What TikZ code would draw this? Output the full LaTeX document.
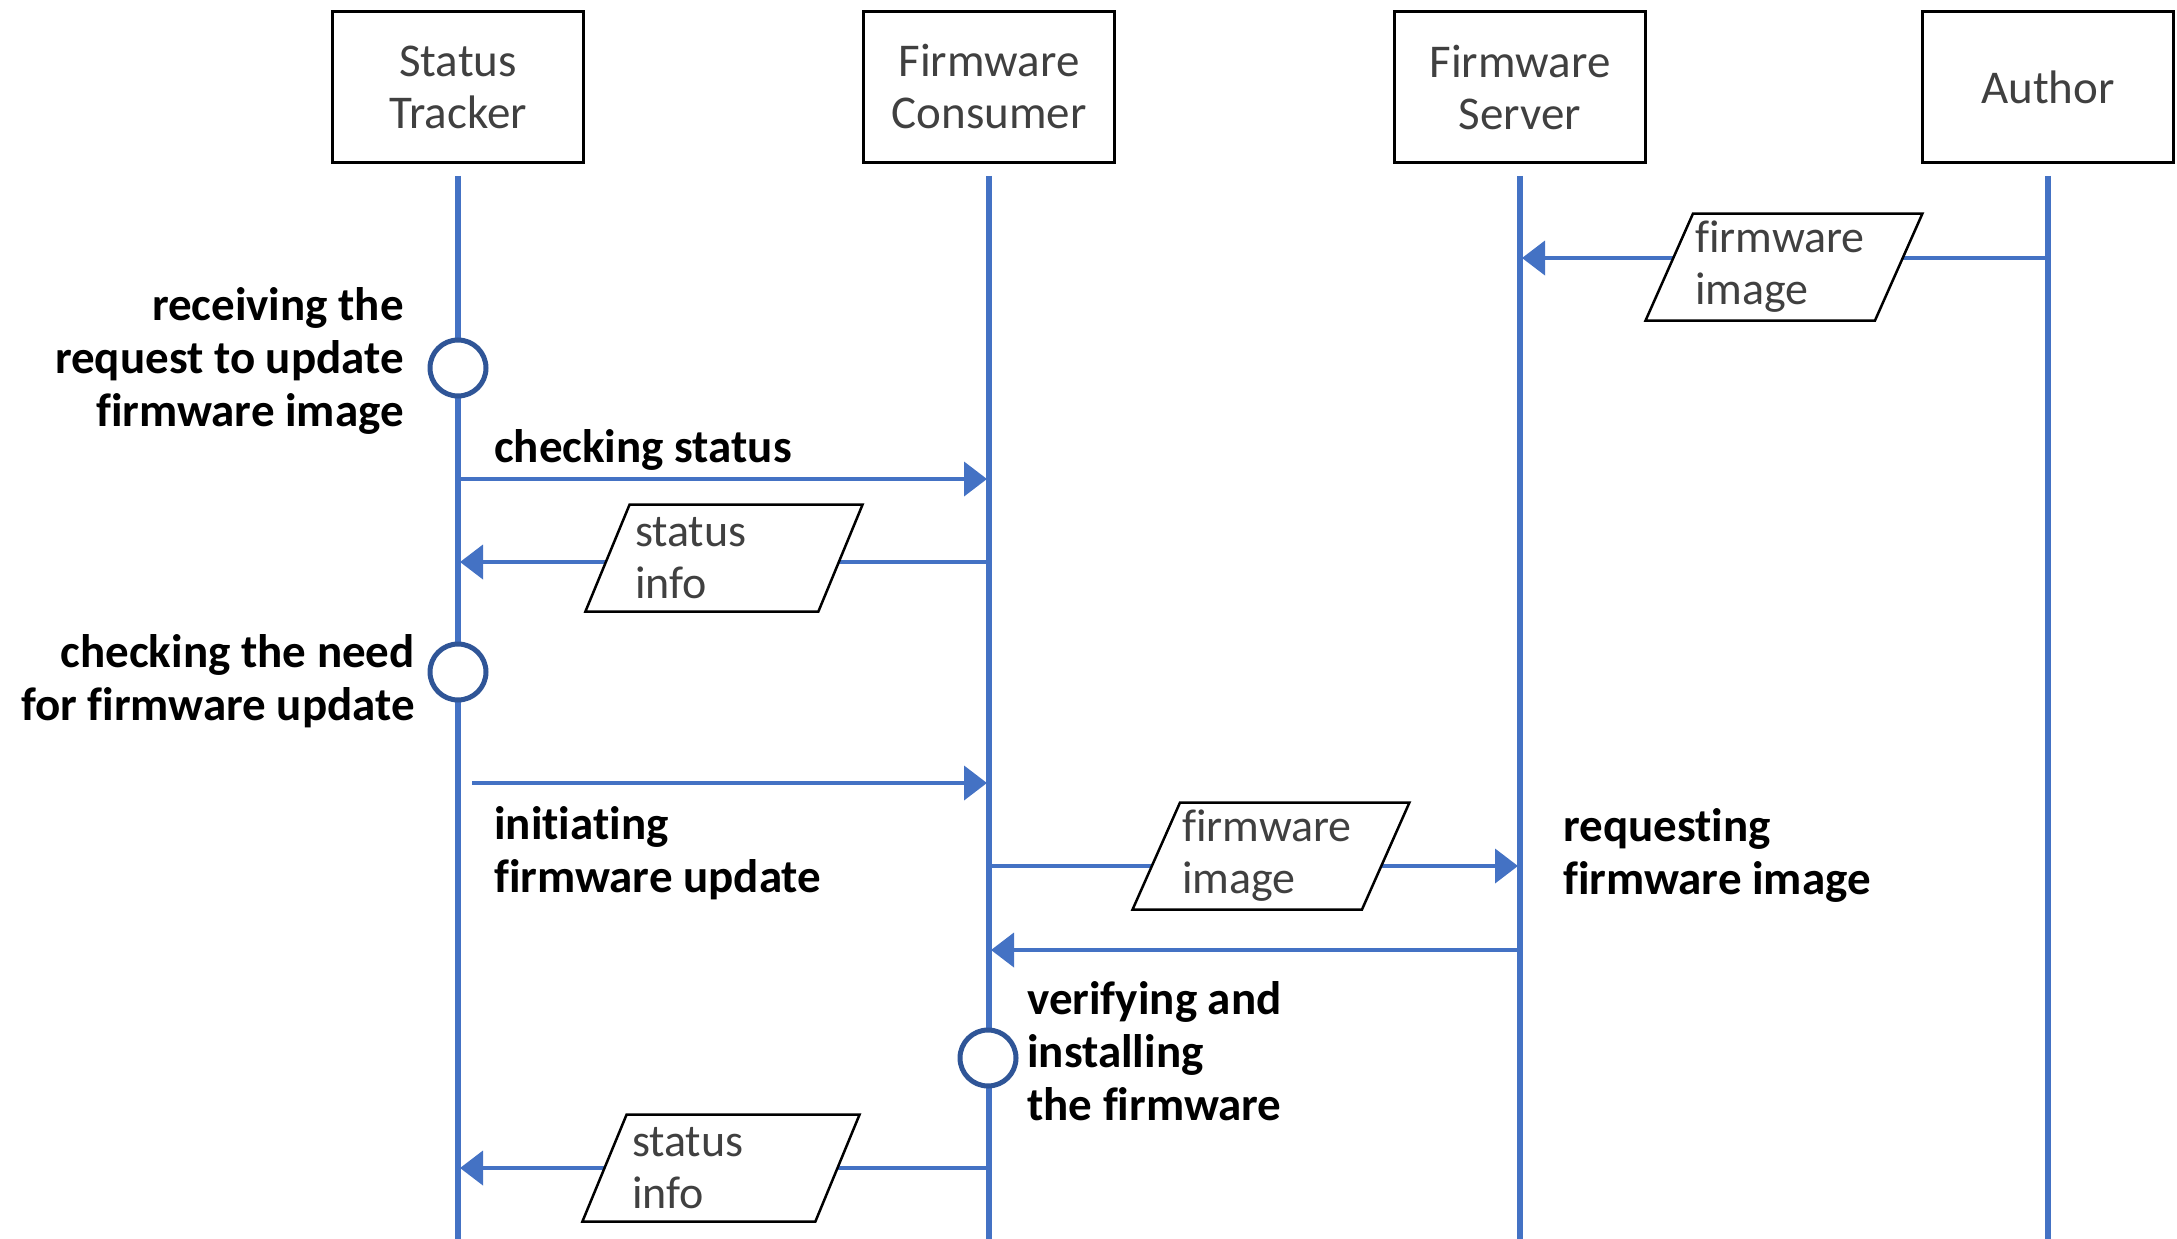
\documentclass[tikz,border=0pt]{standalone}
\usepackage{fontspec}
\setmainfont{Carlito}[Ligatures={NoCommon}]
\usetikzlibrary{shapes.geometric,arrows.meta}
\definecolor{lifeblue}{RGB}{68,114,196}
\definecolor{ringblue}{RGB}{47,85,151}
\definecolor{boxtext}{RGB}{64,64,64}

\begin{document}
\begin{tikzpicture}
[x=1pt,y=-1pt,
  actordecorate/.style={draw,line width=2.5pt,minimum width=251pt,minimum height=151pt,%
    align=center,text=boxtext,font=\fontsize{47}{52}\selectfont},%
  lifedecorate/.style={lifeblue,line width=6.5pt},%
  msgdecorate/.style={lifeblue,line width=4pt,-{Triangle[length=23pt,width=34pt]},shorten >=2pt},%
  datadecorate/.style={trapezium,trapezium left angle=65,trapezium right angle=115,%
    trapezium stretches=true,draw,line width=2.5pt,fill=white,minimum width=278pt,%
    minimum height=107pt,inner xsep=0pt,inner ysep=4pt,text width=178pt,align=left,%
    text=boxtext,font=\fontsize{46}{52}\selectfont},%
  ringdecorate/.style={circle,draw=ringblue,line width=5pt,fill=white,minimum size=56pt,inner sep=0pt},%
  notedecorate/.style={inner sep=0pt,font=\bfseries\fontsize{47}{53}\selectfont}]
\useasboundingbox (0,0) rectangle (2177,1239);
%% actors and lifelines
\foreach \nodename/\x/\label in {st/458/{Status\\Tracker}, fc/989/{Firmware\\Consumer},
  fs/1520/{Firmware\\Server}, au/2048/Author} {
  \node (\nodename) at (\x,87) [actordecorate] {\label};
  \coordinate (\nodename bot) at (\x,1239);
  \draw[lifedecorate] ([yshift=-12pt]\nodename.south) -- (\nodename bot);
}
%% message ends
\foreach \cname/\actor/\y in {m1s/au/258, m1e/fs/258, m2s/st/479, m2e/fc/479,
  m3s/fc/562, m3e/st/562, m4e/fc/783, m5s/fc/866, m5e/fs/866,
  m6s/fs/950, m6e/fc/950, m7s/fc/1168, m7e/st/1168} {
  \coordinate (\cname) at (\actor bot |- 0,\y);
}
\coordinate (m4s) at (472,783);
%% messages
\foreach \from/\to in {m1s/m1e, m2s/m2e, m3s/m3e, m4s/m4e, m5s/m5e, m6s/m6e, m7s/m7e}
  \draw[msgdecorate] (\from) -- (\to);
%% data on messages
\node[datadecorate] (img1) at (1784,267) {firmware\\image};
\node[datadecorate] (stat1) at (724,558) {status\\info};
\node[datadecorate] (img2) at (1271,856) {firmware\\image};
\node[datadecorate] (stat2) at (721,1168) {status\\info};
%% activities
\node[ringdecorate] (recv) at (458,368) {};
\node[ringdecorate] (need) at (458,672) {};
\node[ringdecorate] (verify) at (988,1058) {};
%% notes
\node[notedecorate,align=right,anchor=east] (recvnote) at (404,361)
  {receiving the\\request to update\\firmware image};
\node[notedecorate,anchor=west] (chknote) at (494,450) {checking status};
\node[notedecorate,align=right,anchor=east] (neednote) at (415,681)
  {checking the need\\for firmware update};
\node[notedecorate,align=left,anchor=west] (initnote) at (494,853)
  {initiating\\firmware update};
\node[notedecorate,align=left,anchor=west] (reqnote) at (1563,855)
  {requesting\\firmware image};
\node[notedecorate,align=left,anchor=west] (verinote) at (1027,1051)
  {verifying and\\installing\\the firmware};
\end{tikzpicture}
\end{document}
